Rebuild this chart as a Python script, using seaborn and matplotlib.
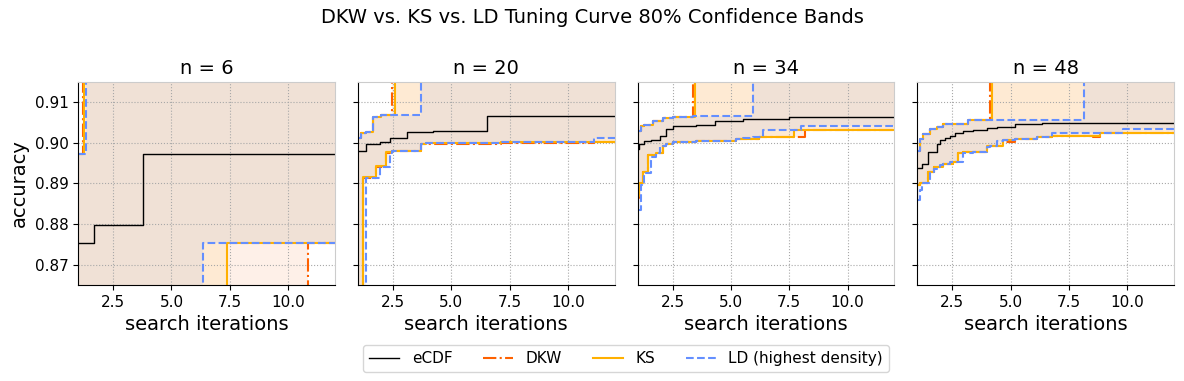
import numpy as np
import pandas as pd
import matplotlib
matplotlib.use('Agg')
import matplotlib.pyplot as plt
from matplotlib import ticker as mticker
import seaborn as sns

# sample sizes, one panel each
ns = [6, 20, 34, 48]
XMAX = 12

# step breakpoints (search iterations) for each panel
grid = {
    6: [1.00, 1.20, 1.23, 1.33, 1.69, 3.79, 6.33, 7.36, 10.84],
    20: [1.00, 1.10, 1.14, 1.21, 1.33, 1.36, 1.64, 1.76, 1.93, 1.97, 2.19,
         2.39, 2.47, 2.60, 3.10, 3.71, 3.93, 4.21, 6.54, 7.14, 11.14],
    34: [1.00, 1.07, 1.14, 1.21, 1.29, 1.43, 1.57, 1.64, 1.79, 1.96, 2.07,
         2.21, 2.50, 3.36, 3.46, 3.50, 4.33, 5.21, 5.50, 5.93, 6.21, 6.36,
         7.47, 7.71, 8.00, 8.19],
    48: [1.00, 1.09, 1.11, 1.19, 1.26, 1.47, 1.54, 1.69, 1.83, 1.97, 2.11,
         2.19, 2.40, 2.54, 2.61, 2.76, 2.97, 3.19, 3.40, 3.97, 4.11, 4.19,
         4.40, 4.69, 5.19, 6.11, 6.33, 6.76, 8.14, 8.54, 8.83, 9.83],
}

ecdf = {
    6: [0.8754, 0.8754, 0.8754, 0.8754, 0.8797, 0.8972, 0.8972, 0.8972, 0.8972],
    20: [0.8979, 0.8981, 0.8981, 0.8981, 0.8998, 0.8998, 0.8998, 0.8998, 0.9002,
         0.9002, 0.9002, 0.9013, 0.9013, 0.9013, 0.9026, 0.9026, 0.9026, 0.9028,
         0.9065, 0.9065, 0.9065],
    34: [0.8985, 0.8998, 0.8998, 0.8998, 0.9004, 0.9004, 0.9007, 0.9007, 0.9007,
         0.9016, 0.9016, 0.9033, 0.9041, 0.9041, 0.9041, 0.9045, 0.9054, 0.9054,
         0.9058, 0.9058, 0.9058, 0.9058, 0.9063, 0.9063, 0.9063, 0.9063],
    48: [0.8937, 0.8937, 0.8937, 0.8949, 0.8949, 0.8977, 0.8977, 0.8977, 0.8998,
         0.9006, 0.9006, 0.9012, 0.9018, 0.9018, 0.9024, 0.9024, 0.9028, 0.9028,
         0.9032, 0.9037, 0.9037, 0.9037, 0.9039, 0.9039, 0.9046, 0.9046, 0.9049,
         0.9049, 0.9049, 0.9049, 0.9049, 0.9049],
}

# upper / lower band edges (1.0 and 0.0 = band runs off the chart)
dkw_hi = {
    6: [0.8972, 1, 1, 1, 1, 1, 1, 1, 1],
    20: [0.9011, 0.9011, 0.9024, 0.9024, 0.9026, 0.9026, 0.9063, 0.9063, 0.9063,
         0.9068, 0.9068, 0.9068, 1, 1, 1, 1, 1, 1, 1, 1, 1],
    34: [0.9030, 0.9030, 0.9042, 0.9042, 0.9045, 0.9045, 0.9045, 0.9054, 0.9054,
         0.9054, 0.9060, 0.9060, 0.9064, 1, 1, 1, 1, 1, 1, 1, 1, 1, 1, 1, 1, 1],
    48: [0.8979, 0.9010, 0.9010, 0.9010, 0.9022, 0.9022, 0.9033, 0.9033, 0.9038,
         0.9038, 0.9046, 0.9046, 0.9046, 0.9046, 0.9046, 0.9046, 0.9046, 0.9056,
         0.9056, 0.9056, 1, 1, 1, 1, 1, 1, 1, 1, 1, 1, 1, 1],
}
ks_hi = {
    6: [0.8972, 0.8972, 1, 1, 1, 1, 1, 1, 1],
    20: [0.9011, 0.9011, 0.9024, 0.9024, 0.9026, 0.9026, 0.9063, 0.9063, 0.9063,
         0.9068, 0.9068, 0.9068, 0.9068, 1, 1, 1, 1, 1, 1, 1, 1],
    34: [0.9030, 0.9030, 0.9042, 0.9042, 0.9045, 0.9045, 0.9045, 0.9054, 0.9054,
         0.9054, 0.9060, 0.9060, 0.9064, 0.9064, 1, 1, 1, 1, 1, 1, 1, 1, 1, 1, 1, 1],
    48: [0.8979, 0.9010, 0.9010, 0.9010, 0.9022, 0.9022, 0.9033, 0.9033, 0.9038,
         0.9038, 0.9046, 0.9046, 0.9046, 0.9046, 0.9046, 0.9046, 0.9046, 0.9056,
         0.9056, 0.9056, 0.9056, 1, 1, 1, 1, 1, 1, 1, 1, 1, 1, 1],
}
ld_hi = {
    6: [0.8972, 0.8972, 0.8972, 1, 1, 1, 1, 1, 1],
    20: [0.9011, 0.9011, 0.9024, 0.9024, 0.9026, 0.9026, 0.9063, 0.9063, 0.9063,
         0.9068, 0.9068, 0.9068, 0.9068, 0.9068, 0.9068, 1, 1, 1, 1, 1, 1],
    34: [0.9030, 0.9030, 0.9042, 0.9042, 0.9045, 0.9045, 0.9045, 0.9054, 0.9054,
         0.9054, 0.9060, 0.9060, 0.9064, 0.9066, 0.9066, 0.9066, 0.9066, 0.9066,
         0.9066, 1, 1, 1, 1, 1, 1, 1],
    48: [0.8979, 0.9010, 0.9010, 0.9010, 0.9022, 0.9022, 0.9033, 0.9033, 0.9038,
         0.9038, 0.9046, 0.9046, 0.9046, 0.9046, 0.9046, 0.9046, 0.9046, 0.9056,
         0.9056, 0.9056, 0.9055, 0.9055, 0.9055, 0.9055, 0.9055, 0.9055, 0.9055,
         0.9055, 1, 1, 1, 1],
}

dkw_lo = {
    6: [0, 0, 0, 0, 0, 0, 0, 0, 0.8754],
    20: [0, 0, 0, 0.8914, 0.8914, 0.8914, 0.8914, 0.8941, 0.8941, 0.8941, 0.8975,
         0.8977, 0.8979, 0.8980, 0.8980, 0.8996, 0.8998, 0.8998, 0.8998, 0.9000,
         0.9001],
    34: [0.8865, 0.8900, 0.8900, 0.8928, 0.8928, 0.8969, 0.8969, 0.8969, 0.8976,
         0.8976, 0.8993, 0.8998, 0.9002, 0.9002, 0.9002, 0.9004, 0.9004, 0.9010,
         0.9010, 0.9009, 0.9015, 0.9015, 0.9015, 0.9015, 0.9015, 0.9031],
    48: [0.8896, 0.8896, 0.8900, 0.8900, 0.8900, 0.8928, 0.8928, 0.8941, 0.8941,
         0.8941, 0.8949, 0.8949, 0.8949, 0.8954, 0.8954, 0.8976, 0.8978, 0.8978,
         0.8978, 0.8993, 0.8993, 0.8993, 0.8993, 0.9002, 0.9010, 0.9014, 0.9014,
         0.9016, 0.9016, 0.9014, 0.9024, 0.9024],
}
ks_lo = {
    6: [0, 0, 0, 0, 0, 0, 0, 0.8754, 0.8754],
    20: [0, 0, 0, 0.8916, 0.8916, 0.8916, 0.8916, 0.8943, 0.8943, 0.8943, 0.8977,
         0.8977, 0.8980, 0.8980, 0.8980, 0.8996, 0.8999, 0.8999, 0.8999, 0.9002,
         0.9002],
    34: [0.8870, 0.8900, 0.8900, 0.8928, 0.8928, 0.8969, 0.8969, 0.8969, 0.8976,
         0.8976, 0.8993, 0.8998, 0.9002, 0.9002, 0.9002, 0.9004, 0.9004, 0.9010,
         0.9010, 0.9010, 0.9015, 0.9015, 0.9015, 0.9031, 0.9031, 0.9031],
    48: [0.8896, 0.8896, 0.8900, 0.8900, 0.8900, 0.8928, 0.8928, 0.8941, 0.8941,
         0.8941, 0.8949, 0.8949, 0.8949, 0.8954, 0.8954, 0.8976, 0.8978, 0.8978,
         0.8978, 0.8993, 0.8993, 0.8993, 0.8993, 0.9006, 0.9010, 0.9014, 0.9014,
         0.9016, 0.9016, 0.9016, 0.9024, 0.9024],
}
ld_lo = {
    6: [0, 0, 0, 0, 0, 0, 0.8754, 0.8754, 0.8754],
    20: [0, 0, 0, 0, 0, 0.8913, 0.8913, 0.8913, 0.8940, 0.8940, 0.8940, 0.8976,
         0.8979, 0.8979, 0.8979, 0.8996, 0.8999, 0.8999, 0.8999, 0.9001, 0.9013],
    34: [0.8835, 0.8835, 0.8895, 0.8895, 0.8925, 0.8925, 0.8965, 0.8965, 0.8975,
         0.8990, 0.8993, 0.8998, 0.9002, 0.9002, 0.9002, 0.9004, 0.9004, 0.9010,
         0.9012, 0.9015, 0.9015, 0.9032, 0.9032, 0.9032, 0.9042, 0.9042],
    48: [0.8859, 0.8859, 0.8885, 0.8895, 0.8900, 0.8900, 0.8925, 0.8935, 0.8940,
         0.8946, 0.8948, 0.8949, 0.8952, 0.8952, 0.8952, 0.8952, 0.8974, 0.8976,
         0.8978, 0.8990, 0.8993, 0.8993, 0.9004, 0.9006, 0.9010, 0.9014, 0.9014,
         0.9024, 0.9024, 0.9024, 0.9024, 0.9034],
}

LD = 'LD (highest density)'
order = ['eCDF', 'DKW', 'KS', LD]
colors = {'eCDF': 'black', 'DKW': '#FE6100', 'KS': '#FFB000', LD: '#648FFF'}
dashes = {'eCDF': '', 'DKW': (6.4, 1.6, 1.0, 1.6), 'KS': '', LD: (3.7, 1.6)}
sizes = {'eCDF': 1.0, 'DKW': 1.5, 'KS': 1.5, LD: 1.5}
bands = {'DKW': (dkw_lo, dkw_hi), 'KS': (ks_lo, ks_hi), LD: (ld_lo, ld_hi)}

#%%
# long table of step curves, last value carried to the end of the axis
rows = []
for n in ns:
    xs = grid[n] + [XMAX]
    curves = [('eCDF', 'mid', ecdf[n])]
    for m, (lo, hi) in bands.items():
        curves += [(m, 'lower', lo[n]), (m, 'upper', hi[n])]
    for method, bound, ys in curves:
        ys = ys + [ys[-1]]
        for x, y in zip(xs, ys):
            rows.append({'n': n, 'method': method, 'bound': bound, 'x': x, 'y': y})
df = pd.DataFrame(rows)

#%%
fig, axes = plt.subplots(1, 4, figsize=(11.84, 3.81), sharey=True)
fig.subplots_adjust(left=0.066, right=0.9916, top=0.785, bottom=0.252, wspace=0.09)

for i, (ax, n) in enumerate(zip(axes, ns)):
    xs = grid[n] + [XMAX]
    for m, (lo, hi) in bands.items():
        ax.fill_between(xs, lo[n] + [lo[n][-1]], hi[n] + [hi[n][-1]], step='post',
                        color=colors[m], alpha=0.09, linewidth=0)
    sns.lineplot(data=df[df['n'] == n], x='x', y='y', hue='method', style='method',
                 size='method', units='bound', estimator=None, sort=False,
                 hue_order=order, style_order=order, size_order=order,
                 palette=colors, dashes=dashes, sizes=sizes,
                 drawstyle='steps-post', legend=(i == 0), ax=ax)

    ax.set_xlim(1, XMAX)
    ax.set_ylim(0.865, 0.915)
    ax.xaxis.set_major_locator(mticker.MultipleLocator(2.5))
    ax.yaxis.set_major_locator(mticker.MultipleLocator(0.01))
    ax.grid(True, linestyle=':', color='#a8a8a8', linewidth=0.8)
    ax.tick_params(labelsize=11)
    for s in ['top', 'right']:
        ax.spines[s].set_color('#cccccc')
    ax.set_title(f'n = {n}', fontsize=14)
    ax.set_xlabel('search iterations', fontsize=14)
    ax.set_ylabel('accuracy' if i == 0 else '', fontsize=14)

leg = axes[0].get_legend()
handles = [h for h, t in zip(leg.legend_handles, leg.texts) if t.get_text() in order]
labels = [t.get_text() for t in leg.texts if t.get_text() in order]
leg.remove()
fig.legend(handles, labels, loc='upper center', bbox_to_anchor=(0.5287, 0.0945),
           borderaxespad=0, ncol=4, fontsize=11)

fig.suptitle('DKW vs. KS vs. LD Tuning Curve 80% Confidence Bands', fontsize=14)

plt.savefig('out.png', dpi=100)
